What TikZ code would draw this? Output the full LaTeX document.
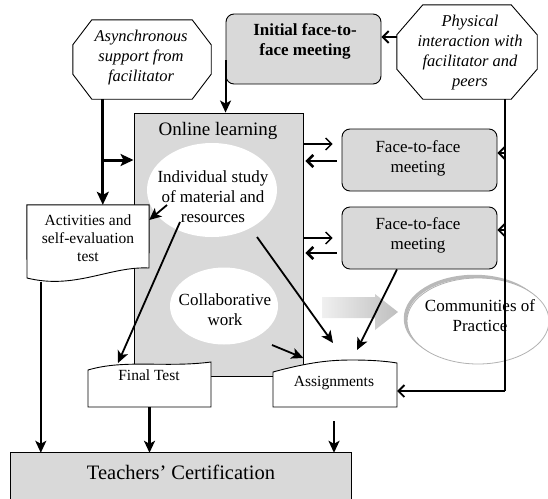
\documentclass[tikz,border=0pt]{standalone}
\usepackage{fontspec}
\setmainfont{Liberation Serif}
\usetikzlibrary{arrows.meta,calc,shapes.geometric}
\definecolor{boxgray}{RGB}{217,217,217}
\begin{document}
\begin{tikzpicture}[x=1pt,y=-1pt,
  txt/.style={font=\fontsize{17}{20}\selectfont, align=center, inner sep=0pt},
  smalltxt/.style={font=\fontsize{15.5}{18}\selectfont, align=center, inner sep=0pt},
  ittxt/.style={font=\fontsize{16.5}{20}\selectfont\itshape, align=center, inner sep=0pt},
  graybox/.style={draw, fill=boxgray, line width=0.9pt, rounded corners=8pt, inner sep=0pt},
  plainbox/.style={inner sep=0pt},
  octo/.style={draw, fill=white, line width=0.9pt},
  docshape/.style={draw, fill=white, line width=0.9pt},
  arr/.style={-{Stealth[length=12pt,width=11pt,inset=3pt]}, line width=1.8pt},
  thickarr/.style={-{Stealth[length=13pt,width=12pt,inset=3pt]}, line width=3pt},
  barb/.style={-{Straight Barb[length=6pt,width=12pt]}, line width=1.4pt},
]
\useasboundingbox (0,0) rectangle (548,498);

% ---------- Online learning box ----------
\node[draw, fill=boxgray, line width=0.9pt, minimum width=169pt, minimum height=263pt, inner sep=0pt] (online) at (218.5,244.5) {};
\node[txt, font=\fontsize{19}{22}\selectfont] (onlinet) at (218,131) {Online learning};
\node[ellipse, fill=white, minimum width=130pt, minimum height=94pt, inner sep=0pt] (indiv) at (212,190) {};
\node[txt] (indivt) at (213,197) {Individual study\\of material and\\resources};
\node[ellipse, fill=white, minimum width=108pt, minimum height=77pt, inner sep=0pt] (collab) at (224,306) {};
\node[txt] (collabt) at (225,310) {Collaborative\\work};

% ---------- Octagons ----------
\node[plainbox, minimum width=138pt, minimum height=79pt] (async) at (142,59.5) {};
\draw[octo] ([xshift=19pt]async.north west) -- ([xshift=-19pt]async.north east)
  -- ([yshift=-25pt]async.north east) -- ([yshift=25pt]async.south east)
  -- ([xshift=-19pt]async.south east) -- ([xshift=19pt]async.south west)
  -- ([yshift=25pt]async.south west) -- ([yshift=-25pt]async.north west) -- cycle;
\node[ittxt] (asynct) at (141,58) {Asynchronous\\support from\\facilitator};

\node[plainbox, minimum width=140pt, minimum height=94pt] (physical) at (467,52) {};
\draw[octo] ([xshift=26pt]physical.north west) -- ([xshift=-26pt]physical.north east)
  -- ([yshift=-30pt]physical.north east) -- ([yshift=30pt]physical.south east)
  -- ([xshift=-26pt]physical.south east) -- ([xshift=26pt]physical.south west)
  -- ([yshift=30pt]physical.south west) -- ([yshift=-30pt]physical.north west) -- cycle;
\node[ittxt] (physicalt) at (470,53) {Physical\\interaction with\\facilitator and\\peers};

% ---------- Gray rounded boxes ----------
\node[graybox, minimum width=155pt, minimum height=70pt] (initial) at (303.5,49) {};
\node[txt, font=\fontsize{17}{20}\selectfont\bfseries] (initialt) at (305,41) {Initial face-to-\\face meeting};
\node[graybox, minimum width=155pt, minimum height=62pt] (ftf1) at (419.5,160) {};
\node[txt] (ftf1t) at (418,158) {Face-to-face\\meeting};
\node[graybox, minimum width=155pt, minimum height=62pt] (ftf2) at (419.5,238) {};
\node[txt] (ftf2t) at (418,235) {Face-to-face\\meeting};

% ---------- Document shapes ----------
\node[plainbox, minimum width=122pt, minimum height=75pt] (acts) at (88,242.5) {};
\draw[docshape] (acts.north west) -- (acts.north east) -- (149,268)
  .. controls (110,266) and (75,290) .. (27,278) -- cycle;
\node[smalltxt] (actst) at (88,238) {Activities and\\self-evaluation\\test};

\node[plainbox, minimum width=123pt, minimum height=46pt] (final) at (149.5,384) {};
\draw[docshape] (88,407) -- (88,370) .. controls (125,359) and (165,368) .. (211,362) -- (211,407) -- cycle;
\node[smalltxt] (finalt) at (149,375) {Final Test};

\node[plainbox, minimum width=124pt, minimum height=47pt] (assign) at (335,383.5) {};
\draw[docshape] (273,407) -- (273,372) .. controls (310,362) and (330,360) .. (352,360)
  .. controls (370,360) and (385,361) .. (397,363) -- (397,407) -- cycle;
\node[smalltxt] (assignt) at (334,383) {Assignments};

% ---------- Certification ----------
\node[fill=boxgray, minimum width=340pt, minimum height=46pt, inner sep=0pt] (cert) at (181,476) {};
\draw[line width=0.9pt] (cert.south west) -- (cert.north west) -- (cert.north east) -- (cert.south east);
\node[txt, font=\fontsize{20.5}{24}\selectfont] (certt) at (181,472) {Teachers' Certification};

% ---------- Communities of Practice ----------
\draw[gray!55, line width=3.5pt] (474.5,318.5) ellipse (69pt and 42pt);
\node[ellipse, draw=gray!60, fill=white, line width=0.8pt, minimum width=142pt, minimum height=86pt, inner sep=0pt] (cop) at (478,321) {};
\node[txt] (copt) at (480,316) {Communities of\\Practice};
\shade[left color=gray!12, right color=gray!50] (322,297) -- (375,297) -- (375,294)
  -- (398,312) -- (375,330) -- (375,318) -- (322,318) -- cycle;

% ---------- Connectors ----------
% asynchronous support
\coordinate (as) at ($(async.south west)+(30,0)$);
\draw[thickarr] (as) -- (as |- acts.north);
\draw[thickarr] (as |- 0,160) -- (online.west |- 0,160);

% initial meeting
\draw[line width=2pt, -{Stealth[length=12pt,width=11pt,inset=3pt]}] ($(initial.west)+(0,11)$) -- (initial.west |- online.north);
\draw[barb, line width=1.8pt] (physical.west |- 0,37) -- (initial.east |- 0,37);

% online <-> face-to-face
\draw[barb, line width=1.3pt] (online.east |- 0,144) -- ($(ftf1.west |- 0,144)+(-9,0)$);
\draw[barb, line width=2.6pt] ($(ftf1.west |- 0,161)+(-5,0)$) -- ($(online.east |- 0,161)+(2,0)$);
\draw[barb, line width=1.3pt] (online.east |- 0,238) -- ($(ftf2.west |- 0,238)+(-9,0)$);
\draw[barb, line width=2.6pt] ($(ftf2.west |- 0,253)+(-5,0)$) -- ($(online.east |- 0,253)+(2,0)$);

% right-hand line from physical interaction
\coordinate (vtop) at ($(physical.south)+(38,0)$);
\coordinate (vbot) at (vtop |- 0,391);
\draw[line width=1.2pt] (vtop) -- (vbot);
\draw[barb, line width=1.8pt] (vbot) -- (assign.east |- vbot);
\draw[barb, line width=1.8pt] (vtop |- 0,153) -- (ftf1.east |- 0,153);
\draw[barb, line width=1.8pt] (vtop |- 0,230) -- (ftf2.east |- 0,230);

% diagonals
\coordinate (d1s) at (167,205);
\draw[arr] (d1s) -- (acts.east |- 0,220);
\coordinate (d2s) at (180,222);
\coordinate (d2e) at (118,363);
\draw[arr] (d2s) -- (d2e);
\coordinate (d3s) at (257,237);
\coordinate (d3e) at (333,343);
\draw[arr] (d3s) -- (d3e);
\coordinate (d4s) at (272,345);
\draw[arr] (d4s) -- (online.east |- 0,358);
\coordinate (d5e) at (357,350);
\draw[arr] ($(ftf2.south)+(-22.5,0)$) -- (d5e);

% into certification
\coordinate (actsb) at ($(acts.south west)+(14,2)$);
\draw[arr, line width=2.2pt] (actsb) -- (actsb |- cert.north);
\draw[arr, line width=2.2pt] (final.south) -- (final.south |- cert.north);
\coordinate (asd) at (334,421);
\draw[arr, line width=2.6pt] (asd) -- (asd |- cert.north);
\end{tikzpicture}
\end{document}
